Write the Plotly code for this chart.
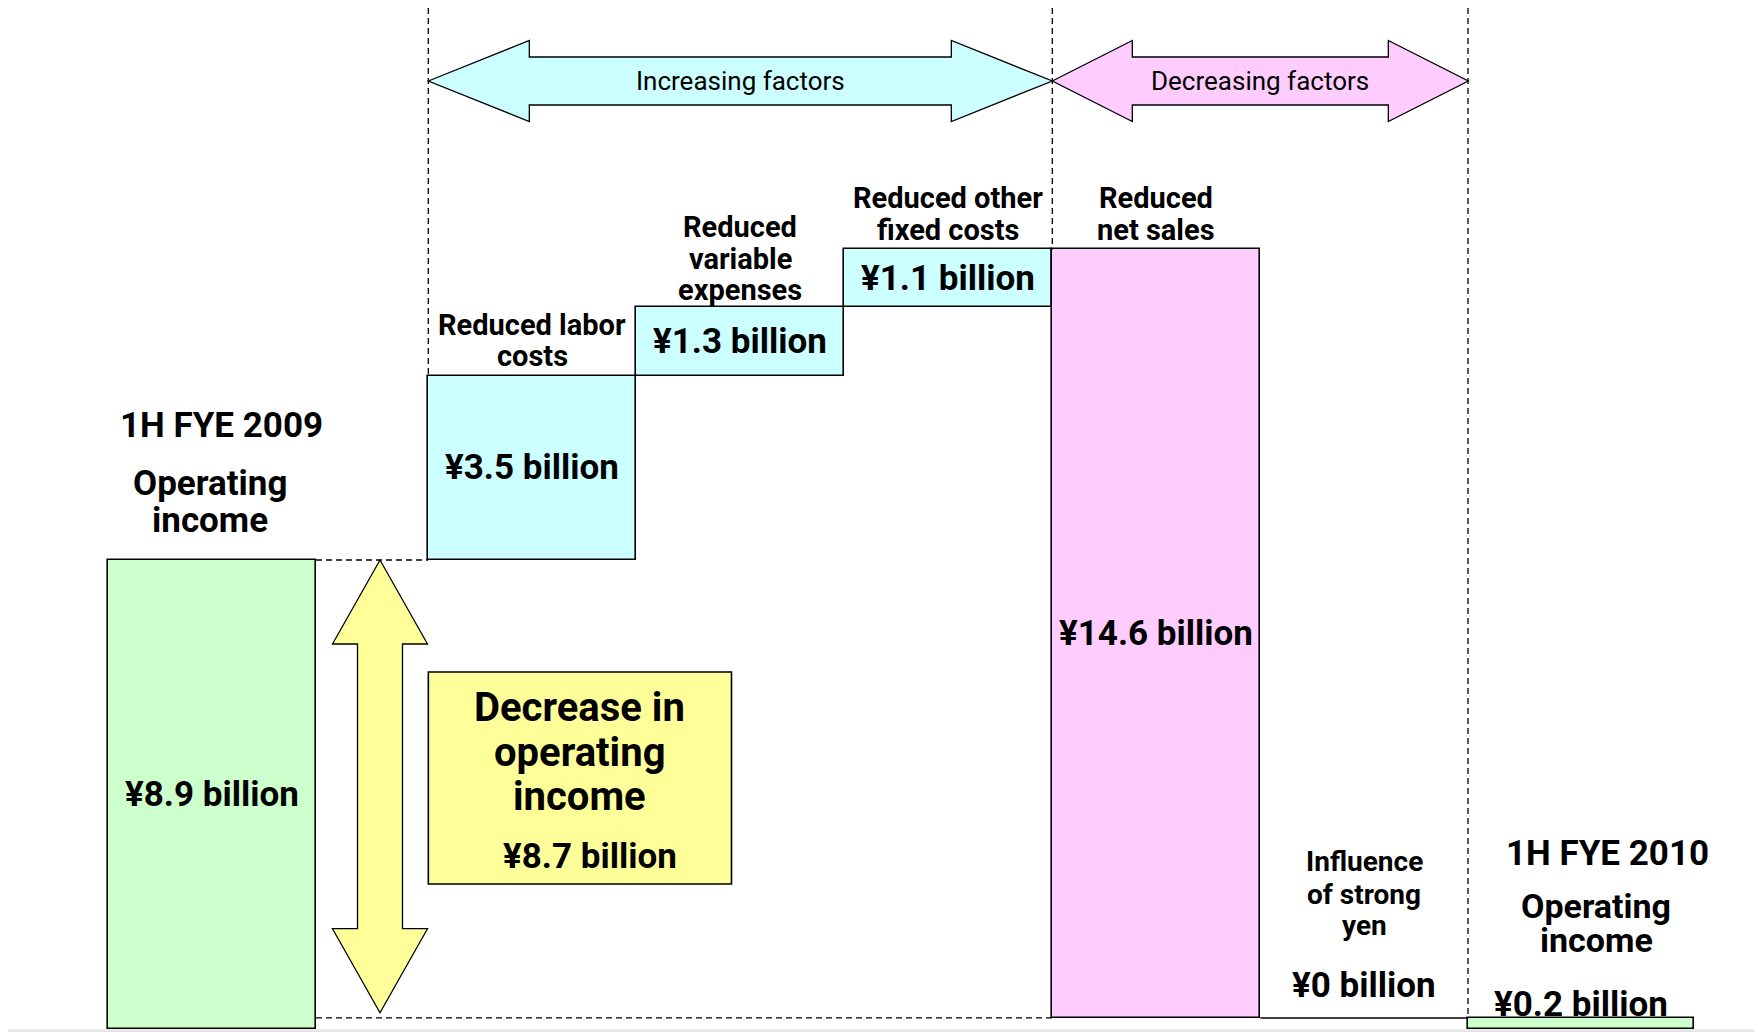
import plotly.graph_objects as go

# ---------------- data ----------------
categories = ["1H FYE 2009 Operating income", "Reduced labor costs", "Reduced variable expenses",
              "Reduced other fixed costs", "Reduced net sales", "Influence of strong yen",
              "1H FYE 2010 Operating income"]
label_lines = [["1H FYE 2009", "Operating", "income"],
               ["Reduced labor", "costs"],
               ["Reduced", "variable", "expenses"],
               ["Reduced other", "fixed costs"],
               ["Reduced", "net sales"],
               ["Influence", "of strong", "yen"],
               ["1H FYE 2010", "Operating", "income"]]
values = [8.9, 3.5, 1.3, 1.1, -14.6, 0.0, 0.2]          # ¥ billion
measures = ["absolute", "relative", "relative", "relative", "relative", "relative", "total"]
group_labels = ["Increasing factors", "Decreasing factors"]
decrease_title = ["Decrease in", "operating", "income"]

# ---------------- layout / style (not data) ----------------
W, H = 1762, 1032
OFF = 8           # browser body margin (page px)
PX_X = 208.0      # px per x unit (one bar slot)
PX_Y = 52.64      # px per ¥1 billion
X0_PX = 212.0     # page pixel of x=0
Y0_PX = 1028.5    # page pixel of y=0
x_pos = [0, 1.54, 2.54, 3.54, 4.54, 5.54, 6.582]
widths = [1, 1, 1, 1, 1, 1, 1.087]
GREEN, CYAN, PINK, YELLOW = "#CCFFCC", "#CCFFFF", "#FFCCFF", "#FFFF99"
FONT = "Roboto, 'Noto Sans', 'DejaVu Sans', sans-serif"
DASH = "6px,4px"


def ux(px):   # page px -> x units
    return (px - X0_PX) / PX_X


def uy(px):   # page px -> y units
    return (Y0_PX - px) / PX_Y


xr = [ux(OFF), ux(OFF + W)]
yr = [uy(OFF + H), uy(OFF)]

# ---------------- waterfall computation ----------------
bases, heights, colors, tops = [], [], [], []
cum = 0.0
for v, m in zip(values, measures):
    if m == "absolute":
        b, h, cum = 0.0, v, v
        c = GREEN
    elif m == "total":
        b, h = 0.0, cum
        c = GREEN
    else:
        b = cum if v >= 0 else cum + v
        h = abs(v)
        cum += v
        c = CYAN if v > 0 else PINK
    bases.append(b); heights.append(h); colors.append(c); tops.append(b + h)
final = round(cum, 1)
start = values[0]
decrease = round(start - final, 1)


def fmt(v):
    return f"¥{abs(round(v, 1)):g} billion"


left = [x - w / 2 for x, w in zip(x_pos, widths)]
right = [x + w / 2 for x, w in zip(x_pos, widths)]

fig = go.Figure()

nz = [i for i, h in enumerate(heights) if h > 0]
fig.add_trace(go.Bar(
    x=[x_pos[i] for i in nz], y=[heights[i] for i in nz], base=[bases[i] for i in nz],
    width=[widths[i] for i in nz],
    marker=dict(color=[colors[i] for i in nz], line=dict(color="black", width=1.6)),
    hoverinfo="skip", showlegend=False))


def line(xs, ys, dash=None, width=1.3):
    fig.add_trace(go.Scatter(x=xs, y=ys, mode="lines", hoverinfo="skip", showlegend=False,
                             line=dict(color="black", width=width, dash=dash)))


# zero-height bars -> solid line at their level
for i, h in enumerate(heights):
    if h == 0:
        line([left[i], right[i]], [bases[i], bases[i]], width=1.6)

# dashed connectors
line([right[0], left[1]], [start, start], DASH)
line([right[0], left[4]], [final, final], DASH)
# vertical dashed separators
ytop = uy(8)
line([left[1], left[1]], [ytop, tops[1]], DASH)
line([left[4], left[4]], [ytop, tops[4]], DASH)
line([left[6], left[6]], [ytop, tops[6]], DASH)

shapes = []


def harrow(x0, x1, yc, hl, hh, sh, fill):
    p = (f"M{x0},{yc} L{x0+hl},{yc+hh} L{x0+hl},{yc+sh} L{x1-hl},{yc+sh} L{x1-hl},{yc+hh} "
         f"L{x1},{yc} L{x1-hl},{yc-hh} L{x1-hl},{yc-sh} L{x0+hl},{yc-sh} L{x0+hl},{yc-hh} Z")
    shapes.append(dict(type="path", path=p, xref="x", yref="y", fillcolor=fill,
                       line=dict(color="black", width=1.3), layer="above"))


def varrow(xc, y0, y1, hl, hw, sw, fill):
    p = (f"M{xc},{y1} L{xc+hw},{y1-hl} L{xc+sw},{y1-hl} L{xc+sw},{y0+hl} L{xc+hw},{y0+hl} "
         f"L{xc},{y0} L{xc-hw},{y0+hl} L{xc-sw},{y0+hl} L{xc-sw},{y1-hl} L{xc-hw},{y1-hl} Z")
    shapes.append(dict(type="path", path=p, xref="x", yref="y", fillcolor=fill,
                       line=dict(color="black", width=1.3), layer="above"))


y_arrow = uy(81)
harrow(left[1], left[4], y_arrow, 101 / PX_X, 40.5 / PX_Y, 24 / PX_Y, CYAN)
harrow(left[4], right[5], y_arrow, 80 / PX_X, 40.5 / PX_Y, 24 / PX_Y, PINK)

varrow(ux(380), final + 0.1, start, 84 / PX_Y, 47.5 / PX_X, 22.5 / PX_X, YELLOW)

# yellow box
bx0, bx1 = left[1], ux(731.5)
by0, by1 = uy(884), uy(672)
shapes.append(dict(type="rect", xref="x", yref="y", x0=bx0, x1=bx1, y0=by0, y1=by1,
                   fillcolor=YELLOW, line=dict(color="black", width=1.6), layer="above"))
# bottom page edge strip
shapes.append(dict(type="rect", xref="x", yref="y", x0=xr[0], x1=xr[1], y0=uy(1032), y1=uy(1029.5),
                   fillcolor="#E4E4E4", line=dict(width=0), layer="above"))

ann = []


def text(x, y, s, size, yshift=0, bold=True, xshift=0):
    ann.append(dict(x=x, y=y, text=s, showarrow=False, xref="x", yref="y",
                    xanchor="center", yanchor="middle", yshift=yshift, xshift=xshift,
                    font=dict(family=FONT, size=size, color="black",
                              weight="bold" if bold else "normal")))


# arrow texts
text((left[1] + left[4]) / 2, y_arrow, group_labels[0], 26, bold=False)
text((left[4] + right[5]) / 2, y_arrow, group_labels[1], 26, bold=False)

# values inside bars
for i in range(1, 5):
    text(x_pos[i], bases[i] + heights[i] / 2, fmt(values[i]), 35)
text(x_pos[0], uy(794), fmt(values[0]), 35)
text(x_pos[5], tops[5], fmt(values[5]), 35, yshift=32.5)
text(x_pos[6], tops[6], fmt(final), 35, yshift=13)

# category labels above the factor bars
for i in range(1, 5):
    n = len(label_lines[i])
    gap = 17 if i == 2 else 19.5
    for k, s in enumerate(label_lines[i]):
        text(x_pos[i], tops[i], s, 29, yshift=gap + 31.5 * (n - 1 - k))
# strong-yen label
for k, s in enumerate(label_lines[5]):
    text(x_pos[5], tops[5], s, 28, yshift=[156, 123.5, 92][k])
# start / end labels (placed at page positions)
for k, s in enumerate(label_lines[0]):
    text(x_pos[0], uy([425, 483, 520][k]), s, 35, xshift=[9, -2, -2][k])
for k, s in enumerate(label_lines[6]):
    text(x_pos[6], tops[6], s, [35, 34, 34][k], yshift=[164, 112, 78][k], xshift=[26, 15, 15][k])

# decrease box texts
bxc = (bx0 + bx1) / 2
for k, s in enumerate(decrease_title):
    text(bxc, uy([707, 752, 796][k]), s, 40)
text(bxc, uy(856), fmt(decrease), 35, xshift=10)

fig.update_layout(
    width=W, height=H, margin=dict(l=0, r=0, t=0, b=0),
    paper_bgcolor="white", plot_bgcolor="white",
    xaxis=dict(range=xr, visible=False, fixedrange=True),
    yaxis=dict(range=yr, visible=False, fixedrange=True),
    shapes=shapes, annotations=ann, bargap=0, showlegend=False,
)

fig.write_html("out.html")
